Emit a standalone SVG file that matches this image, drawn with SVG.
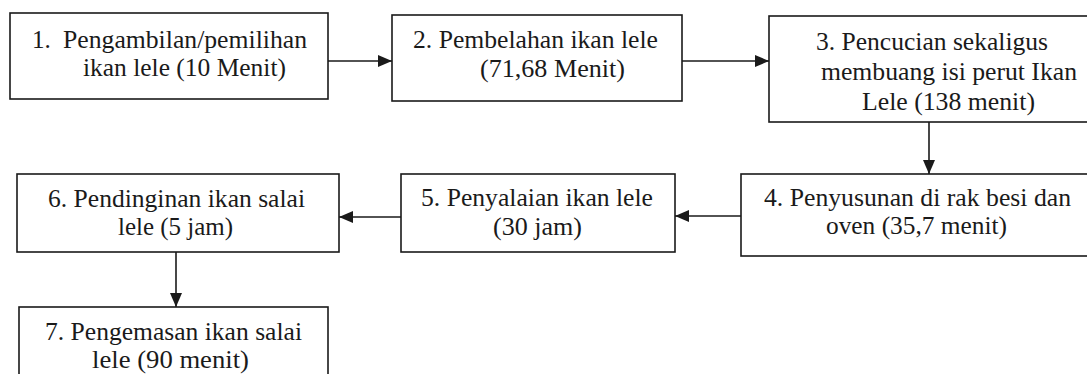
<svg xmlns="http://www.w3.org/2000/svg" width="1087" height="374" viewBox="0 0 1087 374">
<style>
.box{fill:#fff;stroke:#1a1a1a;stroke-width:1.6}
.t{font-size:25px;fill:#1a1a1a}
.c{stroke:#1a1a1a;stroke-width:1.6;fill:none}
</style>
<defs>
<marker id="ah" markerWidth="14" markerHeight="12" refX="14" refY="6" orient="auto" markerUnits="userSpaceOnUse">
<path d="M0,0 L14,6 L0,12 Z" fill="#1a1a1a"/>
</marker>
</defs>
<rect width="1087" height="374" fill="#fff"/>
<g id="connectors">
<line class="c" x1="328" y1="61" x2="392" y2="61" marker-end="url(#ah)"/>
<line class="c" x1="682" y1="61" x2="769" y2="61" marker-end="url(#ah)"/>
<line class="c" x1="929" y1="122" x2="929" y2="174" marker-end="url(#ah)"/>
<line class="c" x1="741" y1="216" x2="675" y2="216" marker-end="url(#ah)"/>
<line class="c" x1="401" y1="217" x2="339" y2="217" marker-end="url(#ah)"/>
<line class="c" x1="176" y1="252" x2="176" y2="307" marker-end="url(#ah)"/>
</g>
<g font-family="'Liberation Serif', 'DejaVu Serif', 'Times New Roman', serif">
<g id="n1">
<rect class="box" x="10" y="13" width="318" height="86"/>
<text class="t" x="32" y="48">1.</text>
<text class="t" x="63" y="48" textLength="244" lengthAdjust="spacingAndGlyphs">Pengambilan/pemilihan</text>
<text class="t" x="83" y="76" textLength="203" lengthAdjust="spacingAndGlyphs">ikan lele (10 Menit)</text>
</g>
<g id="n2">
<rect class="box" x="392" y="15" width="290" height="86"/>
<text class="t" x="413" y="48" textLength="245" lengthAdjust="spacingAndGlyphs">2. Pembelahan ikan lele</text>
<text class="t" x="480" y="77" textLength="145" lengthAdjust="spacingAndGlyphs">(71,68 Menit)</text>
</g>
<g id="n3">
<rect class="box" x="769" y="16" width="330" height="106"/>
<text class="t" x="816" y="50" textLength="232" lengthAdjust="spacingAndGlyphs">3. Pencucian sekaligus</text>
<text class="t" x="821" y="80" textLength="256" lengthAdjust="spacingAndGlyphs">membuang isi perut Ikan</text>
<text class="t" x="862" y="110" textLength="173" lengthAdjust="spacingAndGlyphs">Lele (138 menit)</text>
</g>
<g id="n4">
<rect class="box" x="741" y="174" width="360" height="82"/>
<text class="t" x="764" y="206" textLength="307" lengthAdjust="spacingAndGlyphs">4. Penyusunan di rak besi dan</text>
<text class="t" x="826" y="234" textLength="181" lengthAdjust="spacingAndGlyphs">oven (35,7 menit)</text>
</g>
<g id="n5">
<rect class="box" x="401" y="174" width="274" height="78"/>
<text class="t" x="421" y="206" textLength="232" lengthAdjust="spacingAndGlyphs">5. Penyalaian ikan lele</text>
<text class="t" x="493" y="235" textLength="89" lengthAdjust="spacingAndGlyphs">(30 jam)</text>
</g>
<g id="n6">
<rect class="box" x="17" y="174" width="322" height="78"/>
<text class="t" x="48" y="207" textLength="257" lengthAdjust="spacingAndGlyphs">6. Pendinginan ikan salai</text>
<text class="t" x="118" y="235" textLength="115" lengthAdjust="spacingAndGlyphs">lele (5 jam)</text>
</g>
<g id="n7">
<rect class="box" x="19" y="307" width="309" height="90"/>
<text class="t" x="45" y="340" textLength="257" lengthAdjust="spacingAndGlyphs">7. Pengemasan ikan salai</text>
<text class="t" x="92" y="368" textLength="157" lengthAdjust="spacingAndGlyphs">lele (90 menit)</text>
</g>
</g>
</svg>
